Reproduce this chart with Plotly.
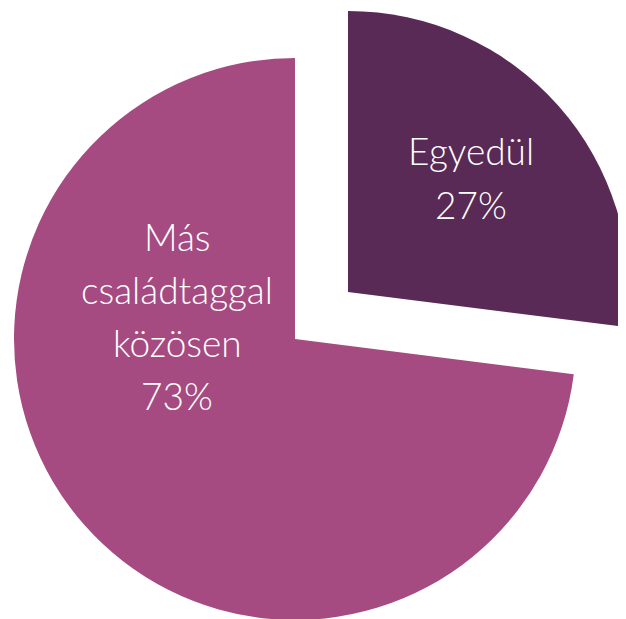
import plotly.graph_objects as go

# Data
labels = ["Egyedül", "Más családtaggal közösen"]
label_lines = [["Egyedül"], ["Más", "családtaggal", "közösen"]]
values = [27, 73]
colors = ["#582A55", "#A54B82"]

W, H = 640, 630
OFF = 8  # page body margin offset
TRANSPARENT = "rgba(0,0,0,0)"

def px_dom(cx, cy, r):
    # centre/radius given in screen pixels
    cx, cy = cx - OFF, cy - OFF
    x0, x1, y0, y1 = cx - r, cx + r, cy - r, cy + r
    return dict(x=[x0 / W, x1 / W], y=[(H - y1) / H, (H - y0) / H])

fig = go.Figure()
# main (not pulled) slice
fig.add_trace(go.Pie(
    labels=labels, values=values, sort=False, direction="clockwise", rotation=0,
    marker=dict(colors=[TRANSPARENT, colors[1]], line=dict(width=0)),
    textinfo="none", hoverinfo="label+percent", showlegend=False,
    domain=px_dom(295, 339, 281),
))
# exploded slice
fig.add_trace(go.Pie(
    labels=labels, values=values, sort=False, direction="clockwise", rotation=0,
    marker=dict(colors=[colors[0], TRANSPARENT], line=dict(width=0)),
    textinfo="none", hoverinfo="label+percent", showlegend=False,
    domain=px_dom(348, 292, 281),
))

# label positions (screen pixel centres of the first line) and line spacing
anchors = [(471, 151), (177, 236)]
spacing = 53
for lines, v, (ax, ay) in zip(label_lines, values, anchors):
    all_lines = lines + [f"{v}%"]
    for i, t in enumerate(all_lines):
        px = ax - OFF
        py = ay + i * spacing - OFF
        fig.add_annotation(
            x=px / W, y=(H - py) / H, xref="paper", yref="paper",
            text=t, showarrow=False, xanchor="center", yanchor="middle",
            font=dict(family="Lato", size=37, color="white", weight=300),
        )

fig.update_layout(
    width=W, height=H, margin=dict(l=0, r=0, t=0, b=0),
    paper_bgcolor="white", plot_bgcolor="white", showlegend=False,
)
fig.write_html("out.html")
